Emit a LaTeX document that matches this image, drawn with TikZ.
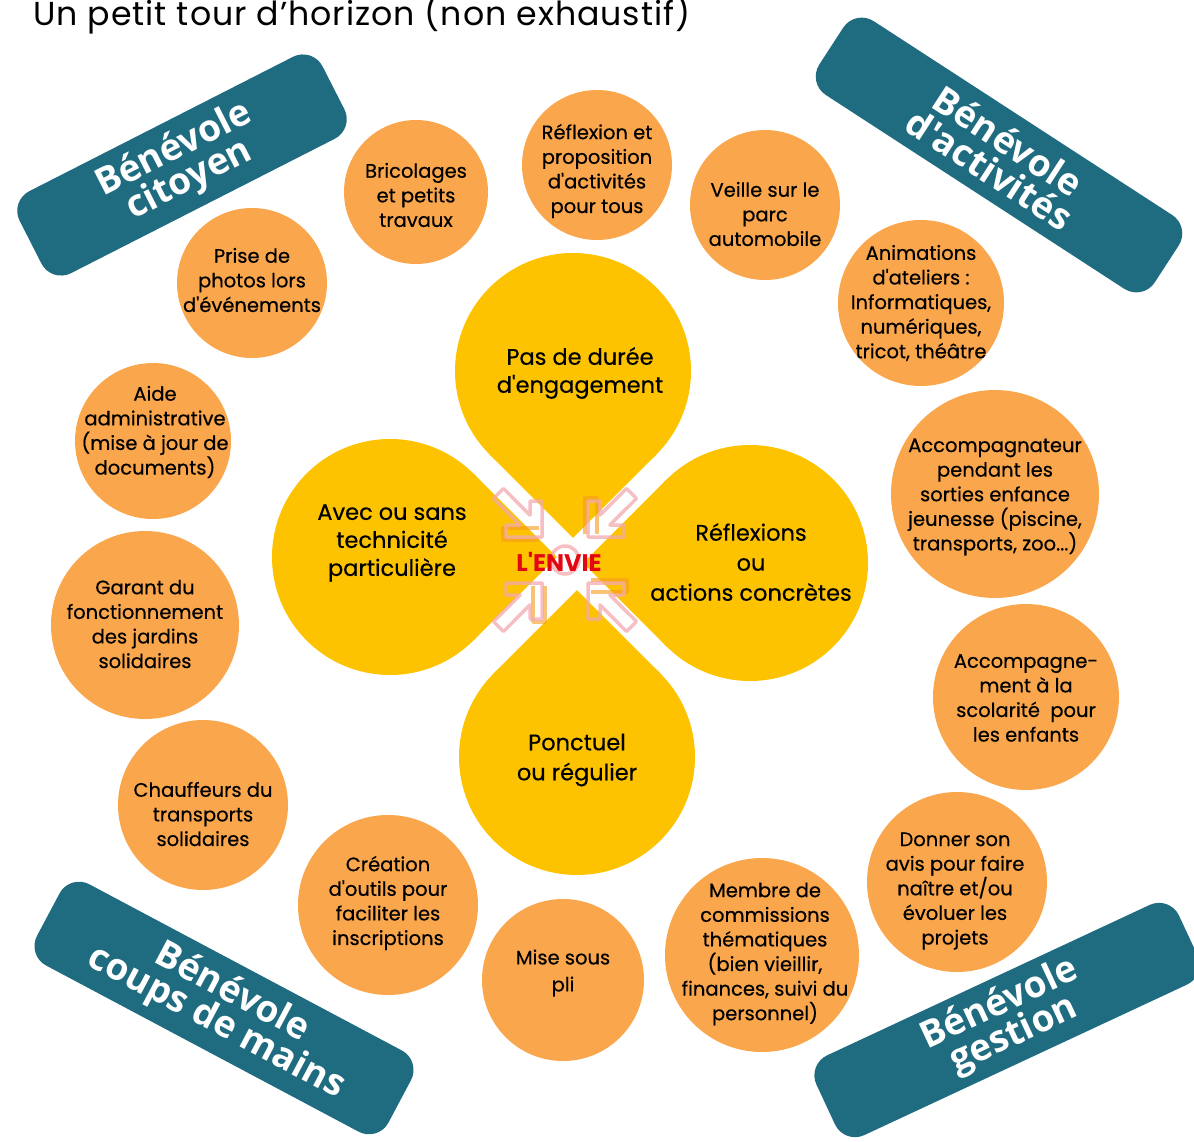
\documentclass[tikz,border=0pt]{standalone}
\usepackage{fontspec}
\setmainfont{Poppins}[Ligatures=TeXOff, FakeBold=0.4]
\newfontfamily\titrefont{Poppins}[LetterSpace=3]
\newfontfamily\envief{Poppins}[Ligatures=TeXOff]
\newfontfamily\bandeaufont{Open Sans}[Ligatures=TeXOff]
\definecolor{orangeb}{HTML}{F9A64D}
\definecolor{jaune}{HTML}{FDC300}
\definecolor{bleu}{HTML}{1F6C81}
\definecolor{rouge}{HTML}{E30613}
\definecolor{rose}{HTML}{F2A9B0}
\definecolor{ombre}{HTML}{F59A1B}
\tikzset{
	bulle/.style={circle, fill=orangeb, inner sep=0pt},
	texte/.style={align=center, font=\fontsize{19.5}{24.6}\selectfont, inner sep=0pt, yshift=-3pt},
	petale/.style={fill=jaune},
	centre/.style={align=center, font=\fontsize{22.5}{28}\selectfont, inner sep=0pt, yshift=-4pt},
	bandeau/.style={fill=bleu, rounded corners=22pt, text=white, align=center, inner sep=0pt,
		font=\bandeaufont\bfseries\fontsize{37}{34}\selectfont},
	fleche/.style={draw=rose, line width=3.5pt, opacity=.75, line join=round},
	fleche ombre/.style={draw=ombre, line width=3.5pt, opacity=.6, line join=round},
}
\begin{document}
\begin{tikzpicture}[x=1pt, y=-1pt]
		\useasboundingbox (0,0) rectangle (1194,1142);
		% les quatre petales
		\coordinate (haut) at (573,371);
		\coordinate (gauche) at (390,557);
		\coordinate (droite) at (750,563);
		\coordinate (bas) at (577,757);
		\fill[petale] (haut) circle (118);
		\fill[petale] (haut) -- ++(45:118) -- ++(135:118) -- ++(225:118) -- cycle;
		\fill[petale] (gauche) circle (118);
		\fill[petale] (gauche) -- ++(-45:118) -- ++(45:118) -- ++(135:118) -- cycle;
		\fill[petale] (droite) circle (118);
		\fill[petale] (droite) -- ++(135:118) -- ++(225:118) -- ++(315:118) -- cycle;
		\fill[petale] (bas) circle (118);
		\fill[petale] (bas) -- ++(225:118) -- ++(315:118) -- ++(45:118) -- cycle;
		% les fleches vers le centre
		\coordinate (coeur) at (565,560);
		\foreach \a in {0,90,180,270} {
			\begin{scope}[shift={(coeur)}, rotate=\a]
				\draw[fleche ombre] (-26,-20) -- (-62,-20) -- (-62,-32) -- (-26,-32);
				\draw[fleche] (-23,-23) -- (-59,-23) -- (-59,-35) -- (-44.9,-35) -- (-71.5,-61.5)
				-- (-61.5,-71.5) -- (-35,-44.9) -- (-35,-59) -- (-23,-59) -- cycle;
			\end{scope}
		}
		\draw[fleche] (coeur) circle (14);
		\node[font=\envief\bfseries\fontsize{24}{24}\selectfont, text=rouge, inner sep=0pt] (envie) at (559,562) {L'ENVIE};
		% textes des petales
		\node[centre] (duree) at (580,369) {Pas de durée\\d'engagement};
		\node[centre] (technicite) at (392,539) {Avec ou sans\\technicité\\particulière};
		\node[centre, font=\fontsize{22.5}{30}\selectfont] (reflexions) at (751,558) {Réflexions\\ou\\actions concrètes};
		\node[centre, font=\fontsize{22.5}{30}\selectfont] (ponctuel) at (577,756) {Ponctuel\\ou régulier};
		% les bulles
		\node[bulle, minimum size=144pt] (bricolages) at (416,192) {};
		\node[texte] (bricolages-t) at (bricolages) {Bricolages\\et petits\\travaux};
		\node[bulle, minimum size=150pt] (reflexion) at (597,165) {};
		\node[texte] (reflexion-t) at (597,168) {Réflexion et\\proposition\\d'activités\\pour tous};
		\node[bulle, minimum size=150pt] (veille) at (765,205) {};
		\node[texte] (veille-t) at (765,211) {Veille sur le\\parc\\automobile};
		\node[bulle, minimum size=166pt] (animations) at (921,303) {};
		\node[texte] (animations-t) at (921,300) {Animations\\d'ateliers :\\Informatiques,\\numériques,\\tricot, théâtre};
		\node[bulle, minimum size=150pt] (photos) at (252,283) {};
		\node[texte] (photos-t) at (252,277) {Prise de\\photos lors\\d'événements};
		\node[bulle, minimum size=156pt] (aide) at (153,441) {};
		\node[texte] (aide-t) at (155,429) {Aide\\administrative\\(mise à jour de\\documents)};
		\node[bulle, minimum size=208pt] (accompagnateur) at (995,494) {};
		\node[texte] (accompagnateur-t) at (995,494) {Accompagnateur\\pendant les\\sorties enfance\\jeunesse (piscine,\\transports, zoo...)};
		\node[bulle, minimum size=188pt] (garant) at (145,625) {};
		\node[texte] (garant-t) at (145,621) {Garant du\\fonctionnement\\des jardins\\solidaires};
		\node[bulle, minimum size=186pt] (scolarite) at (1026,697) {};
		\node[texte] (scolarite-t) at (1026,695) {Accompagne-\\ment à la\\scolarité\ \ pour\\les enfants};
		\node[bulle, minimum size=170pt] (chauffeurs) at (203,805) {};
		\node[texte] (chauffeurs-t) at (203,811) {Chauffeurs du\\transports\\solidaires};
		\node[bulle, minimum size=180pt] (creation) at (388,905) {};
		\node[texte] (creation-t) at (388,900) {Création\\d'outils pour\\faciliter les\\inscriptions};
		\node[bulle, minimum size=162pt] (pli) at (563,980) {};
		\node[texte, font=\fontsize{19.5}{27}\selectfont] (pli-t) at (563,970) {Mise sous\\pli};
		\node[bulle, minimum size=194pt] (commissions) at (762,955) {};
		\node[texte] (commissions-t) at (765,951) {Membre de\\commissions\\thématiques\\(bien vieillir,\\finances, suivi du\\personnel)};
		\node[bulle, minimum size=180pt] (avis) at (957,882) {};
		\node[texte] (avis-t) at (955,888) {Donner son\\avis pour faire\\naître et/ou\\évoluer les\\projets};
		% les bandeaux
		\node[bandeau, minimum width=340pt, minimum height=92pt, rotate=27] (citoyen) at (182,165) {Bénévole\\citoyen};
		\node[bandeau, minimum width=400pt, minimum height=88pt, rotate=-33] (activites) at (999,155) {Bénévole\\d'activités};
		\node[bandeau, minimum width=398pt, minimum height=92pt, rotate=-28] (coups) at (224,1008) {Bénévole\\coups de mains};
		\node[bandeau, minimum width=400pt, minimum height=88pt, rotate=25] (gestion) at (1007,1020) {Bénévole\\gestion};
		% titre
		\node[anchor=base west, font=\titrefont\fontsize{33.2}{33}\selectfont, inner sep=0pt] (titre) at (33,26) {Un petit tour d’horizon (non exhaustif)};
\end{tikzpicture}
\end{document}
